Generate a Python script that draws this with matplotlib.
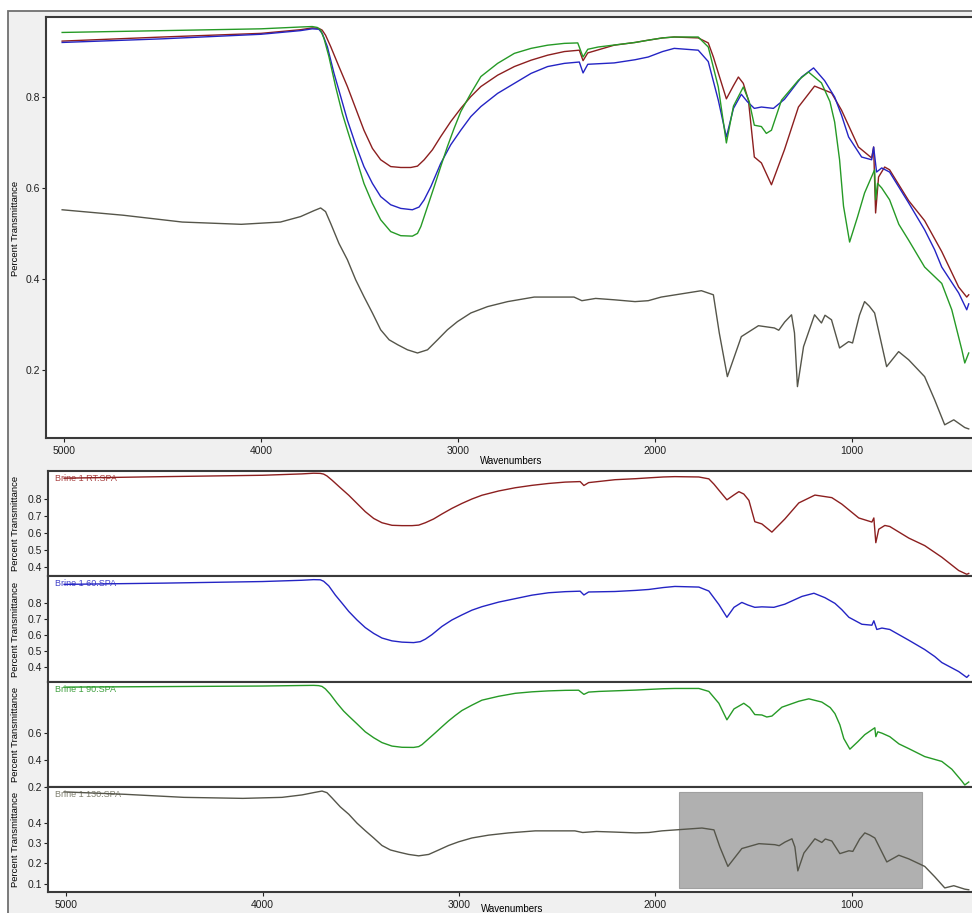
import matplotlib
matplotlib.use("Agg")
import matplotlib.pyplot as plt
from matplotlib.patches import Rectangle

plt.rcParams['font.family'] = ['Liberation Sans', 'DejaVu Sans']

# spectra: wavenumber (cm-1) and transmittance, one pair per sample
rt_wn = [5010, 4500, 4000, 3800, 3740, 3706, 3689, 3672, 3646, 3604, 3561, 3519, 3477, 3434,
         3392, 3341, 3290, 3239, 3205, 3171, 3129, 3087, 3036, 2985, 2934, 2883, 2798, 2713,
         2628, 2544, 2459, 2383, 2364, 2340, 2206, 2100, 2033, 1960, 1901, 1779, 1728, 1702,
         1677, 1636, 1600, 1575, 1550, 1524, 1494, 1458, 1407, 1341, 1270, 1188, 1102, 1051,
         965, 898, 888, 878, 863, 832, 807, 710, 629, 542, 456, 415, 405]
rt_t = [0.923, 0.932, 0.940, 0.948, 0.952, 0.951, 0.947, 0.936, 0.911, 0.867, 0.823, 0.775, 0.727, 0.687,
        0.662, 0.647, 0.645, 0.645, 0.648, 0.662, 0.684, 0.713, 0.746, 0.775, 0.801, 0.823, 0.848, 0.867,
        0.881, 0.892, 0.900, 0.903, 0.880, 0.897, 0.914, 0.920, 0.925, 0.930, 0.932, 0.930, 0.919, 0.888,
        0.853, 0.796, 0.825, 0.844, 0.830, 0.793, 0.668, 0.655, 0.607, 0.684, 0.778, 0.824, 0.809, 0.771,
        0.690, 0.666, 0.690, 0.545, 0.624, 0.646, 0.640, 0.572, 0.528, 0.460, 0.382, 0.360, 0.365]

b60_wn = [5010, 4500, 4000, 3800, 3740, 3706, 3689, 3663, 3629, 3595, 3561, 3519, 3477, 3434,
          3392, 3341, 3290, 3231, 3197, 3171, 3137, 3087, 3036, 2985, 2934, 2883, 2798, 2713,
          2628, 2544, 2459, 2383, 2364, 2340, 2206, 2100, 2033, 1960, 1901, 1779, 1728, 1677,
          1636, 1600, 1560, 1530, 1494, 1458, 1397, 1341, 1254, 1193, 1137, 1086, 1051, 1015,
          949, 898, 888, 873, 847, 807, 710, 629, 578, 542, 456, 415, 405]
b60_t = [0.920, 0.928, 0.938, 0.946, 0.950, 0.949, 0.940, 0.911, 0.852, 0.801, 0.749, 0.695, 0.647, 0.610,
         0.581, 0.563, 0.555, 0.552, 0.558, 0.574, 0.603, 0.654, 0.695, 0.727, 0.757, 0.779, 0.808, 0.830,
         0.852, 0.867, 0.874, 0.877, 0.853, 0.872, 0.875, 0.882, 0.888, 0.900, 0.907, 0.903, 0.878, 0.793,
         0.712, 0.775, 0.806, 0.790, 0.775, 0.778, 0.775, 0.795, 0.844, 0.864, 0.836, 0.800, 0.760, 0.712,
         0.668, 0.662, 0.690, 0.635, 0.644, 0.635, 0.567, 0.508, 0.464, 0.426, 0.369, 0.332, 0.345]

b90_wn = [5010, 4500, 4000, 3800, 3740, 3714, 3697, 3680, 3655, 3621, 3587, 3561, 3519, 3477,
          3434, 3392, 3341, 3290, 3231, 3205, 3188, 3154, 3120, 3087, 3053, 3019, 2985, 2934,
          2883, 2798, 2713, 2628, 2544, 2459, 2391, 2364, 2340, 2287, 2100, 2033, 1960, 1901,
          1779, 1728, 1677, 1636, 1600, 1550, 1520, 1494, 1458, 1433, 1407, 1356, 1270, 1219,
          1153, 1110, 1086, 1061, 1041, 1010, 970, 934, 883, 878, 868, 847, 807, 760, 710, 629,
          542, 491, 440, 425, 405]
b90_t = [0.942, 0.946, 0.950, 0.954, 0.955, 0.953, 0.947, 0.929, 0.889, 0.823, 0.764, 0.727, 0.669, 0.610,
         0.566, 0.530, 0.504, 0.495, 0.494, 0.500, 0.515, 0.559, 0.603, 0.647, 0.691, 0.731, 0.768, 0.808,
         0.845, 0.874, 0.896, 0.907, 0.914, 0.918, 0.919, 0.888, 0.905, 0.910, 0.920, 0.925, 0.930, 0.932,
         0.932, 0.910, 0.822, 0.699, 0.780, 0.822, 0.790, 0.738, 0.735, 0.720, 0.727, 0.793, 0.837, 0.855,
         0.831, 0.790, 0.745, 0.662, 0.560, 0.481, 0.536, 0.589, 0.640, 0.574, 0.610, 0.600, 0.574, 0.520,
         0.485, 0.426, 0.390, 0.332, 0.244, 0.215, 0.237]

b130_wn = [5010, 4700, 4400, 4100, 3901, 3799, 3731, 3697, 3672, 3646, 3604, 3561, 3519, 3477,
           3434, 3392, 3349, 3305, 3256, 3205, 3154, 3103, 3053, 3002, 2934, 2849, 2747, 2612,
           2410, 2370, 2300, 2206, 2100, 2033, 1967, 1763, 1702, 1672, 1631, 1560, 1473, 1392,
           1370, 1340, 1305, 1290, 1275, 1244, 1188, 1153, 1135, 1102, 1061, 1015, 995, 960, 934,
           910, 883, 822, 761, 710, 629, 578, 527, 481, 425, 405]
b130_t = [0.552, 0.540, 0.525, 0.520, 0.525, 0.537, 0.550, 0.556, 0.548, 0.522, 0.478, 0.442, 0.398, 0.361,
          0.325, 0.288, 0.266, 0.255, 0.244, 0.237, 0.244, 0.266, 0.288, 0.306, 0.325, 0.339, 0.350, 0.360,
          0.360, 0.352, 0.357, 0.354, 0.350, 0.352, 0.360, 0.374, 0.365, 0.281, 0.185, 0.273, 0.297, 0.292,
          0.287, 0.305, 0.321, 0.281, 0.163, 0.251, 0.321, 0.303, 0.320, 0.310, 0.248, 0.262, 0.259, 0.320, 0.350,
          0.340, 0.325, 0.207, 0.240, 0.222, 0.185, 0.134, 0.079, 0.090, 0.073, 0.070]

names = ['Brine 1 RT.SPA', 'Brine 1 60.SPA', 'Brine 1 90.SPA', 'Brine 1 130.SPA']
colors = ['#8c1f1f', '#2424c4', '#269a26', '#55554a']
label_colors = ['#a84040', '#4040c8', '#40a040', '#808070']

# per-panel y range and ticks
panel_ylims = [(0.35, 0.965), (0.303, 0.973), (0.2, 0.98), (0.059, 0.576)]
panel_yticks = [[0.4, 0.5, 0.6, 0.7, 0.8], [0.4, 0.5, 0.6, 0.7, 0.8], [0.2, 0.4, 0.6], [0.1, 0.2, 0.3, 0.4]]
top_yticks = [0.2, 0.4, 0.6, 0.8]
xticks = [5000, 4000, 3000, 2000, 1000]

# shaded region on the 130 panel
hl_wn = (1880, 644)
hl_t = (0.079, 0.551)

series = [(rt_wn, rt_t), (b60_wn, b60_t), (b90_wn, b90_t), (b130_wn, b130_t)]

W, H = 972, 913


def box(l, t, r, b):
    return [l / W, 1 - b / H, (r - l) / W, (b - t) / H]


def style(ax, yticks, xlabels):
    ax.set_xlim(5092, 368)
    ax.set_xticks(xticks)
    ax.set_yticks(yticks)
    ax.tick_params(direction='out', length=3, width=0.8, colors='#202020', labelsize=7.5, pad=1.5)
    ax.tick_params(axis='x', pad=3)
    if not xlabels:
        ax.set_xticklabels([])
        ax.tick_params(axis='x', length=0)
    for s in ax.spines.values():
        s.set_color('#3a3a3a')
        s.set_linewidth(1.5)


fig = plt.figure(figsize=(W / 100, H / 100), dpi=100)
fig.patch.set_facecolor('white')
fig.add_artist(Rectangle((8 / W, -0.01), 1.0, 1 - 11.5 / H + 0.01, transform=fig.transFigure,
                         facecolor='#f0f0f0', edgecolor='#707070', lw=1.3, zorder=0))

# overlay of all four spectra
ax = fig.add_axes(box(46, 17, 976, 438))
for (wn, t), c in zip(series, colors):
    ax.plot(wn, t, color=c, lw=1.0)
ax.set_ylim(0.05, 0.976)
style(ax, top_yticks, True)
ax.set_xlabel('Wavenumbers', fontsize=7, labelpad=0)
fig.text(15.5 / W, 1 - 228 / H, 'Percent Transmittance', rotation=90, ha='center', va='center', fontsize=6.8)

# stacked single spectra
edges = [471, 576, 682, 787, 892]
for i in range(4):
    top, bot = edges[i], edges[i + 1]
    pax = fig.add_axes(box(48, top, 976, bot))
    wn, t = series[i]
    pax.plot(wn, t, color=colors[i], lw=1.0, zorder=3)
    pax.set_ylim(*panel_ylims[i])
    style(pax, panel_yticks[i], i == 3)
    pax.text(0.008, 0.93, names[i], transform=pax.transAxes, color=label_colors[i],
             fontsize=6.5, ha='left', va='center', zorder=2)
    fig.text(15.5 / W, 1 - (top + bot) / 2 / H, 'Percent Transmittance', rotation=90,
             ha='center', va='center', fontsize=6.8)
    if i == 3:
        pax.add_patch(Rectangle((hl_wn[0], hl_t[0]), hl_wn[1] - hl_wn[0], hl_t[1] - hl_t[0],
                                facecolor='#b0b0b0', edgecolor='#a0a0a0', lw=0.8, zorder=1))
        pax.set_xlabel('Wavenumbers', fontsize=7, labelpad=-4.5)

fig.savefig('out.png', dpi=100, facecolor=fig.get_facecolor())
